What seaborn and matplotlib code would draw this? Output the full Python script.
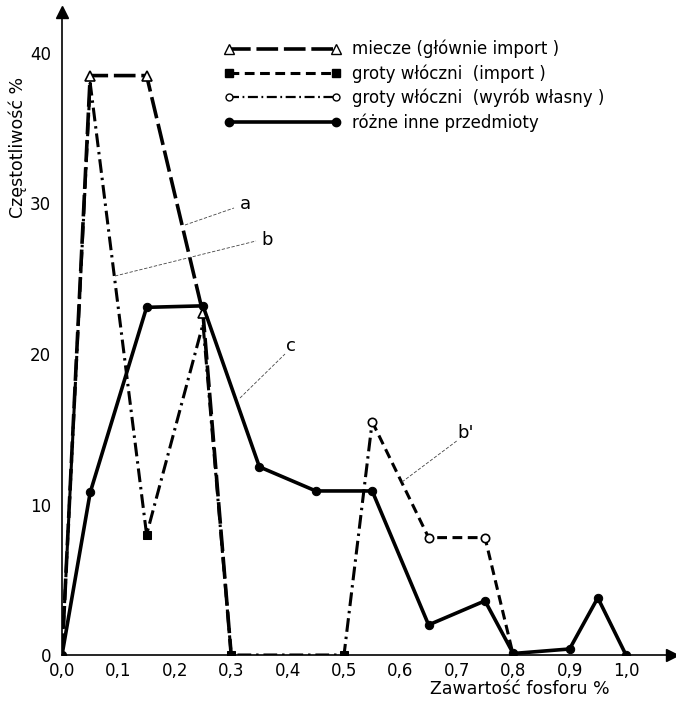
import matplotlib
matplotlib.use("Agg")
import matplotlib.pyplot as plt
import seaborn as sns
import pandas as pd
from matplotlib.lines import Line2D

# ---- data ----
x_miecze = [0.0, 0.05, 0.15, 0.25, 0.30]
y_miecze = [0.0, 38.5, 38.5, 22.7, 0.0]

x_groty_b = [0.0, 0.05, 0.15, 0.25, 0.30, 0.50, 0.55]
y_groty_b = [0.0, 38.0, 8.0, 22.0, 0.0, 0.0, 15.5]

x_groty_b2 = [0.55, 0.65, 0.75, 0.80]
y_groty_b2 = [15.5, 7.8, 7.8, 0.0]

x_inne = [0.0, 0.05, 0.15, 0.25, 0.35, 0.45, 0.55, 0.65, 0.75, 0.80, 0.90, 0.95, 1.00]
y_inne = [0.0, 10.8, 23.1, 23.2, 12.5, 10.9, 10.9, 2.0, 3.6, 0.1, 0.4, 3.8, 0.0]

x_ticks = [0.0, 0.1, 0.2, 0.3, 0.4, 0.5, 0.6, 0.7, 0.8, 0.9, 1.0]
x_tick_labels = ["0,0", "0,1", "0,2", "0,3", "0,4", "0,5", "0,6", "0,7", "0,8", "0,9", "1,0"]
y_ticks = [0, 10, 20, 30, 40]

legend_labels = ["miecze (głównie import )", "groty włóczni  (import )",
                 "groty włóczni  (wyrób własny )", "różne inne przedmioty"]

sns.set_theme(style="white")
plt.rcParams['font.family'] = ['DejaVu Sans']
plt.rcParams['text.color'] = 'black'

fig = plt.figure(figsize=(6.76, 7.04), dpi=100)
ax = fig.add_axes([62/676, 49/704, 610/676, 643/704])

LONG = (0, (6, 1.6))
DASH = (0, (3.2, 1.8))
DASHDOT = (0, (4.5, 1.6, 0.8, 1.6))

sns.lineplot(x=x_miecze, y=y_miecze, ax=ax, color="black", lw=2.6, linestyle=LONG,
             marker="^", markevery=[1, 2, 3], markersize=7, markerfacecolor="white",
             markeredgecolor="black", markeredgewidth=1.2, sort=False)
sns.lineplot(x=x_groty_b, y=y_groty_b, ax=ax, color="black", lw=2.2, linestyle=DASHDOT,
             marker="s", markevery=[2, 4, 5], markersize=6, markerfacecolor="black",
             markeredgecolor="black", sort=False)
sns.lineplot(x=x_groty_b2, y=y_groty_b2, ax=ax, color="black", lw=2.2, linestyle=DASH,
             marker="o", markevery=[0, 1, 2], markersize=6, markerfacecolor="white",
             markeredgecolor="black", markeredgewidth=1.2, sort=False)
sns.lineplot(x=x_inne, y=y_inne, ax=ax, color="black", lw=2.6, linestyle="-",
             marker="o", markersize=6, markerfacecolor="black",
             markeredgecolor="black", sort=False)

ax.set_xlim(0, 610/564)
ax.set_ylim(0, 643/15.05)
ax.set_xticks(x_ticks)
ax.set_xticklabels(x_tick_labels)
ax.set_yticks(y_ticks)
ax.tick_params(axis="both", direction="in", length=7, width=0.8, color="black",
               labelsize=12, labelcolor="black")
ax.tick_params(axis="y", pad=8)
ax.tick_params(axis="x", pad=5)
for s in ["top", "right"]:
    ax.spines[s].set_visible(False)
for s in ["left", "bottom"]:
    ax.spines[s].set_color("black")
    ax.spines[s].set_linewidth(1.2)
ax.set_facecolor("white")
ax.grid(False)

# arrow heads
ax.plot(1, 0, marker=">", color="black", markersize=9, transform=ax.transAxes, clip_on=False)
ax.plot(0, 1, marker="^", color="black", markersize=9, transform=ax.transAxes, clip_on=False)

# axis labels
fig.text(18/676, 1 - 147/704, "Częstotliwość %", rotation=90, ha="center", va="center",
         fontsize=12.5, color="black")
fig.text(520/676, 1 - 689/704, "Zawartość fosforu %", ha="center", va="center",
         fontsize=12.5, color="black")

# annotation callouts (figure pixel coordinates)
def callout(p0, p1, label, tpos):
    fig.add_artist(Line2D([p0[0]/676, p1[0]/676], [1 - p0[1]/704, 1 - p1[1]/704],
                          color="#444444", lw=0.6, linestyle=(0, (4, 2))))
    fig.text(tpos[0]/676, 1 - tpos[1]/704, label, ha="center", va="center",
             fontsize=13, color="black")

callout((185, 225), (234, 208), "a", (245, 204))
callout((115, 276), (256, 241), "b", (267, 240))
callout((240, 398), (285, 354), "c", (291, 346))
callout((402, 482), (458, 440), "b'", (466, 433))

# legend
handles = [
    Line2D([], [], color="black", lw=2.6, linestyle=LONG, marker="^", markersize=7,
           markerfacecolor="white", markeredgecolor="black"),
    Line2D([], [], color="black", lw=2.2, linestyle=DASH, marker="s", markersize=6,
           markerfacecolor="black"),
    Line2D([], [], color="black", lw=1.6, linestyle=DASHDOT, marker="o", markersize=5,
           markerfacecolor="white", markeredgecolor="black"),
    Line2D([], [], color="black", lw=2.6, linestyle="-", marker="o", markersize=6,
           markerfacecolor="black"),
]
fig.legend(handles, legend_labels, loc="upper left", bbox_to_anchor=(224/676, 1 - 40/704),
           frameon=False, numpoints=2, handlelength=7.0, handletextpad=0.7,
           labelspacing=0.35, fontsize=12, borderaxespad=0, borderpad=0)

fig.savefig("out.png", dpi=100, facecolor="white")
